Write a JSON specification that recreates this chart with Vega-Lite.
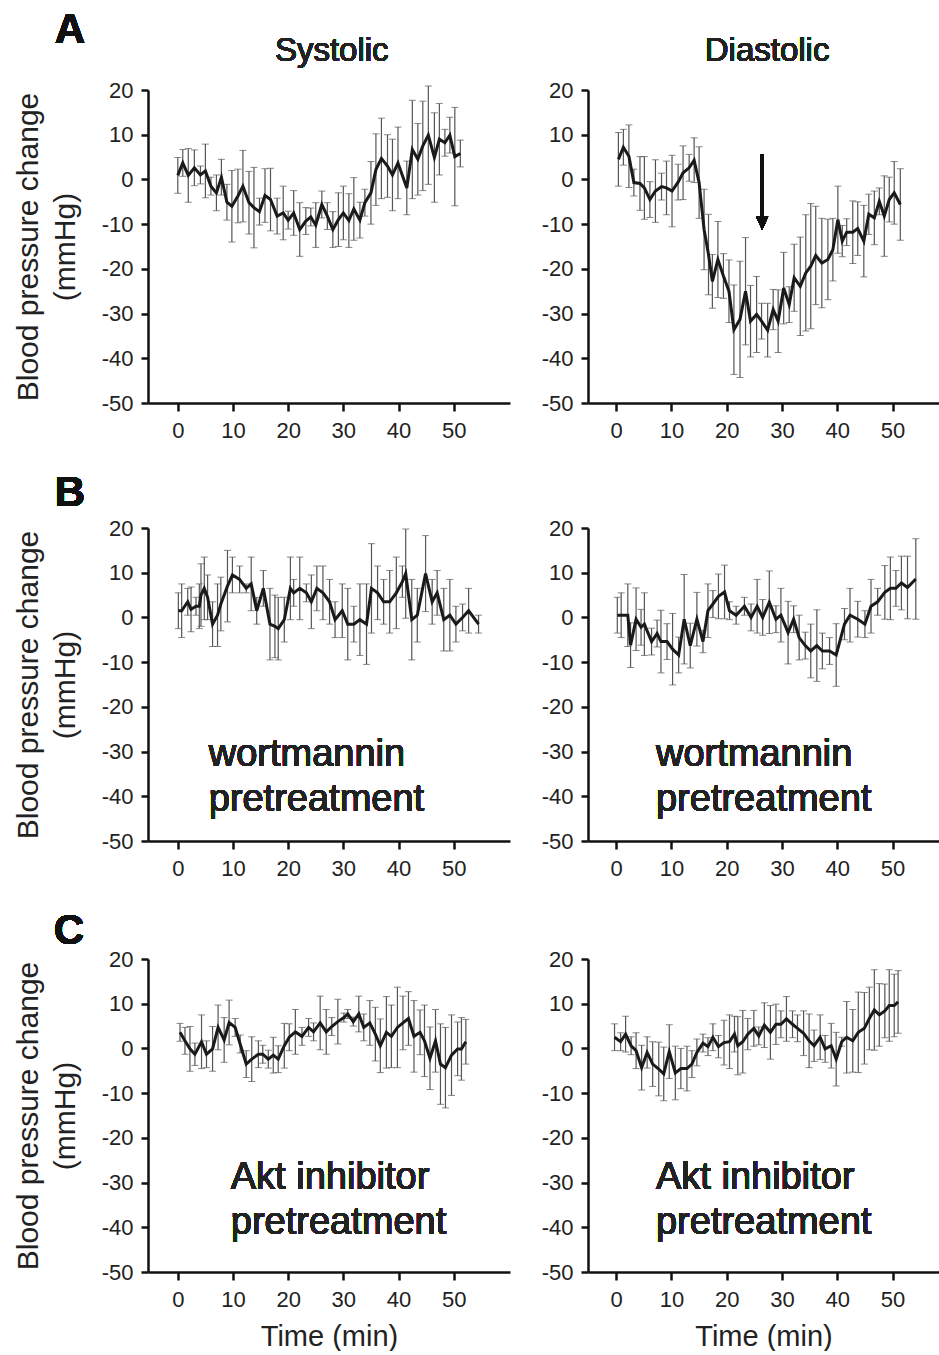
{
"$schema": "https://vega.github.io/schema/vega-lite/v6.json",
"background": "white",
"padding": {"left": 13, "top": 9, "right": 0, "bottom": 0},
"spacing": 30,
"config": {
  "font": "Liberation Sans",
  "view": {"stroke": null},
  "axis": {"grid": false, "domainColor": "#111", "domainWidth": 2.5, "tickColor": "#111", "tickWidth": 2.5, "tickSize": 8, "labelFont": "Liberation Sans", "labelFontSize": 22, "labelColor": "#222", "labelPadding": 9, "titleFont": "Liberation Sans", "titleFontWeight": "normal", "titleColor": "#222"},
  "axisX": {"titleFontSize": 29, "titlePadding": 12},
  "axisY": {"tickSize": 7, "labelPadding": 8, "titleFontSize": 30, "titleLineHeight": 37, "titlePadding": 21},
  "text": {"font": "Liberation Sans", "color": "#222"}
},
"datasets": {
  "sysA": [{"t":0,"mean":0.9,"sem":4},{"t":0.9,"mean":3.7,"sem":3},{"t":1.9,"mean":0.9,"sem":6},{"t":3.0,"mean":2.6,"sem":4},{"t":4.1,"mean":1.0,"sem":2},{"t":5.0,"mean":1.9,"sem":6},{"t":6.0,"mean":-1.5,"sem":2},{"t":7.0,"mean":-3.0,"sem":4},{"t":7.9,"mean":0.5,"sem":4},{"t":8.9,"mean":-5.1,"sem":4},{"t":9.8,"mean":-6.0,"sem":8},{"t":10.9,"mean":-3.7,"sem":6},{"t":11.8,"mean":-1.5,"sem":8},{"t":12.9,"mean":-5.2,"sem":7},{"t":13.8,"mean":-6.3,"sem":9},{"t":14.8,"mean":-7.2,"sem":3},{"t":15.8,"mean":-3.6,"sem":6},{"t":16.8,"mean":-4.5,"sem":7},{"t":18.0,"mean":-8.2,"sem":4},{"t":19.1,"mean":-7.5,"sem":6},{"t":20.0,"mean":-9.1,"sem":2},{"t":21.0,"mean":-7.5,"sem":5},{"t":22.1,"mean":-11.2,"sem":6},{"t":23.2,"mean":-9.3,"sem":3},{"t":24.1,"mean":-8.4,"sem":2},{"t":25.0,"mean":-10.2,"sem":5},{"t":26.1,"mean":-5.6,"sem":3},{"t":27.1,"mean":-8.2,"sem":3},{"t":28.1,"mean":-11.2,"sem":4},{"t":29.1,"mean":-9.0,"sem":6},{"t":30.0,"mean":-7.5,"sem":6},{"t":31.0,"mean":-9.2,"sem":6},{"t":31.9,"mean":-6.6,"sem":7},{"t":33.0,"mean":-9.1,"sem":4},{"t":33.9,"mean":-5.2,"sem":3},{"t":35.0,"mean":-3.0,"sem":7},{"t":35.9,"mean":2.2,"sem":8},{"t":36.9,"mean":4.7,"sem":9},{"t":38.0,"mean":3.0,"sem":7},{"t":38.9,"mean":1.0,"sem":8},{"t":39.9,"mean":3.7,"sem":8},{"t":41.5,"mean":-1.9,"sem":6},{"t":42.5,"mean":6.7,"sem":11},{"t":43.5,"mean":4.5,"sem":8},{"t":44.4,"mean":7.5,"sem":10},{"t":45.4,"mean":9.9,"sem":11},{"t":46.5,"mean":4.9,"sem":10},{"t":47.4,"mean":9.0,"sem":8},{"t":48.4,"mean":8.2,"sem":3},{"t":49.3,"mean":9.9,"sem":4},{"t":50.2,"mean":5.1,"sem":11},{"t":51.2,"mean":5.8,"sem":3}],
  "diaA": [{"t":0.4,"mean":4.5,"sem":6},{"t":1.3,"mean":7.2,"sem":4},{"t":2.3,"mean":5.2,"sem":7},{"t":3.2,"mean":-0.7,"sem":3},{"t":4.3,"mean":-0.9,"sem":6},{"t":5.1,"mean":-1.9,"sem":7},{"t":6.1,"mean":-4.5,"sem":4},{"t":7.1,"mean":-2.6,"sem":7},{"t":8.2,"mean":-1.6,"sem":3},{"t":9.1,"mean":-1.9,"sem":6},{"t":10.1,"mean":-2.6,"sem":8},{"t":11.2,"mean":-0.6,"sem":4},{"t":12.1,"mean":1.5,"sem":6},{"t":13.2,"mean":2.6,"sem":3},{"t":14.1,"mean":4.3,"sem":5},{"t":15.0,"mean":-0.7,"sem":8},{"t":15.9,"mean":-11.2,"sem":9},{"t":16.7,"mean":-16.8,"sem":9},{"t":17.4,"mean":-22.8,"sem":6},{"t":18.4,"mean":-17.9,"sem":8.5},{"t":19.4,"mean":-21.6,"sem":5},{"t":20.4,"mean":-25.0,"sem":7},{"t":21.3,"mean":-33.6,"sem":10},{"t":22.4,"mean":-31.3,"sem":13},{"t":23.4,"mean":-25.0,"sem":12},{"t":24.3,"mean":-31.7,"sem":8},{"t":25.4,"mean":-30.2,"sem":8.5},{"t":26.3,"mean":-31.7,"sem":4},{"t":27.4,"mean":-33.7,"sem":6},{"t":28.4,"mean":-29.1,"sem":4.5},{"t":29.3,"mean":-31.7,"sem":7},{"t":30.3,"mean":-24.3,"sem":8},{"t":31.3,"mean":-28.0,"sem":4},{"t":32.2,"mean":-22.0,"sem":7.5},{"t":33.3,"mean":-23.9,"sem":11},{"t":34.3,"mean":-20.9,"sem":13},{"t":35.2,"mean":-19.4,"sem":14},{"t":36.1,"mean":-17.0,"sem":11},{"t":37.2,"mean":-18.7,"sem":10},{"t":38.3,"mean":-17.9,"sem":9},{"t":39.2,"mean":-15.7,"sem":7},{"t":40.1,"mean":-9.0,"sem":7.5},{"t":40.9,"mean":-13.8,"sem":3.5},{"t":41.7,"mean":-11.8,"sem":3},{"t":42.8,"mean":-11.8,"sem":7},{"t":43.7,"mean":-11.0,"sem":6},{"t":44.8,"mean":-13.8,"sem":8},{"t":45.7,"mean":-7.8,"sem":4.5},{"t":46.7,"mean":-8.6,"sem":6},{"t":47.6,"mean":-4.9,"sem":3},{"t":48.5,"mean":-8.2,"sem":9},{"t":49.4,"mean":-4.5,"sem":5},{"t":50.3,"mean":-3.0,"sem":7},{"t":51.4,"mean":-5.6,"sem":8}],
  "sysB": [{"t":0.1,"mean":1.5,"sem":4},{"t":0.7,"mean":1.5,"sem":6},{"t":1.8,"mean":3.5,"sem":3},{"t":2.4,"mean":1.8,"sem":5},{"t":3.3,"mean":2.5,"sem":2},{"t":3.9,"mean":2.5,"sem":5},{"t":4.2,"mean":5,"sem":7},{"t":4.8,"mean":6.5,"sem":7},{"t":5.4,"mean":4.5,"sem":5},{"t":6.3,"mean":-1.5,"sem":5},{"t":7.2,"mean":0.5,"sem":7},{"t":7.8,"mean":3,"sem":6},{"t":9.0,"mean":7,"sem":8},{"t":9.9,"mean":9.5,"sem":4},{"t":11.2,"mean":8.5,"sem":3},{"t":12.4,"mean":6.5,"sem":1},{"t":13.3,"mean":7.5,"sem":6},{"t":14.3,"mean":1.5,"sem":3},{"t":15.5,"mean":6.5,"sem":4},{"t":16.7,"mean":-1.5,"sem":8},{"t":17.6,"mean":-2,"sem":7},{"t":18.2,"mean":-2.5,"sem":7},{"t":19.3,"mean":-0.5,"sem":5},{"t":20.4,"mean":6.5,"sem":7},{"t":21.0,"mean":5.5,"sem":3},{"t":22.1,"mean":6.5,"sem":7},{"t":23.3,"mean":5.5,"sem":2},{"t":24.2,"mean":3.5,"sem":6},{"t":25.2,"mean":6.5,"sem":5},{"t":26.3,"mean":5.5,"sem":6},{"t":27.5,"mean":3.5,"sem":5},{"t":28.5,"mean":-0.5,"sem":4},{"t":29.8,"mean":1.5,"sem":6},{"t":30.8,"mean":-1.5,"sem":8},{"t":31.9,"mean":-1.5,"sem":4},{"t":33.0,"mean":-0.5,"sem":8},{"t":34.2,"mean":-1.5,"sem":9},{"t":35.1,"mean":6.5,"sem":10},{"t":36.2,"mean":5.5,"sem":6},{"t":37.3,"mean":3.5,"sem":5},{"t":38.4,"mean":3.5,"sem":7},{"t":39.6,"mean":5.5,"sem":8},{"t":40.7,"mean":8,"sem":3.5},{"t":41.3,"mean":9.8,"sem":10},{"t":42.4,"mean":-0.5,"sem":9},{"t":43.4,"mean":0.5,"sem":6},{"t":44.9,"mean":9.8,"sem":8.5},{"t":46.1,"mean":3.5,"sem":5},{"t":47.0,"mean":5.5,"sem":5},{"t":48.2,"mean":-0.5,"sem":7},{"t":49.3,"mean":0.5,"sem":8},{"t":50.4,"mean":-1.5,"sem":4},{"t":51.6,"mean":0,"sem":3},{"t":52.7,"mean":1.5,"sem":5},{"t":54.5,"mean":-1.5,"sem":2}],
  "diaB": [{"t":0.2,"mean":0.5,"sem":4},{"t":0.9,"mean":0.5,"sem":5},{"t":2.1,"mean":0.5,"sem":7},{"t":2.6,"mean":-6.2,"sem":5},{"t":3.6,"mean":-0.4,"sem":7},{"t":4.5,"mean":-2.2,"sem":4},{"t":5.1,"mean":-1.5,"sem":7},{"t":6.4,"mean":-5.4,"sem":3},{"t":7.4,"mean":-3.6,"sem":3},{"t":8.1,"mean":-5.4,"sem":7},{"t":9.2,"mean":-5.4,"sem":4},{"t":10.2,"mean":-7.1,"sem":8},{"t":11.3,"mean":-8.4,"sem":4},{"t":12.3,"mean":-0.4,"sem":10},{"t":13.4,"mean":-6.3,"sem":5},{"t":14.6,"mean":-0.4,"sem":6},{"t":15.7,"mean":-5.4,"sem":2.5},{"t":16.6,"mean":1.5,"sem":6},{"t":17.5,"mean":3,"sem":3},{"t":18.5,"mean":4.7,"sem":5},{"t":19.6,"mean":5.7,"sem":6},{"t":20.5,"mean":1.5,"sem":2},{"t":21.7,"mean":0.5,"sem":2},{"t":23.2,"mean":2.5,"sem":2},{"t":24.4,"mean":0,"sem":3},{"t":25.5,"mean":2.5,"sem":6},{"t":26.5,"mean":0,"sem":4},{"t":27.7,"mean":3.4,"sem":7},{"t":28.9,"mean":-0.4,"sem":3},{"t":29.8,"mean":0.5,"sem":6},{"t":31.1,"mean":-3.4,"sem":7},{"t":32.1,"mean":-0.4,"sem":3},{"t":33.1,"mean":-4.5,"sem":5},{"t":34.2,"mean":-6.3,"sem":3},{"t":35.2,"mean":-7.5,"sem":6},{"t":36.3,"mean":-6.3,"sem":8},{"t":37.3,"mean":-7.5,"sem":4},{"t":38.6,"mean":-7.5,"sem":3},{"t":39.8,"mean":-8.4,"sem":7},{"t":41.3,"mean":-1.5,"sem":3.5},{"t":42.3,"mean":0.5,"sem":6},{"t":43.7,"mean":-0.4,"sem":4},{"t":45.0,"mean":-1.5,"sem":3},{"t":46.1,"mean":2.5,"sem":6},{"t":47.3,"mean":3.5,"sem":3},{"t":48.6,"mean":5.6,"sem":6},{"t":49.6,"mean":6.5,"sem":7},{"t":50.6,"mean":6.5,"sem":4},{"t":51.6,"mean":7.7,"sem":6},{"t":52.7,"mean":6.7,"sem":7},{"t":54.2,"mean":8.6,"sem":9}],
  "sysC": [{"t":0.4,"mean":3.6,"sem":2},{"t":1.3,"mean":1.7,"sem":3},{"t":2.2,"mean":-0.1,"sem":5},{"t":3.1,"mean":-1.3,"sem":2.5},{"t":4.3,"mean":1.5,"sem":6},{"t":5.2,"mean":-1.3,"sem":3},{"t":6.3,"mean":-0.1,"sem":5},{"t":7.3,"mean":4.7,"sem":5},{"t":8.4,"mean":1.9,"sem":5},{"t":9.3,"mean":5.8,"sem":5},{"t":10.4,"mean":4.7,"sem":2},{"t":11.3,"mean":1.0,"sem":2},{"t":12.4,"mean":-3.5,"sem":3},{"t":13.4,"mean":-2.4,"sem":5},{"t":14.6,"mean":-1.3,"sem":3},{"t":15.4,"mean":-1.3,"sem":2},{"t":16.4,"mean":-2.4,"sem":2},{"t":17.3,"mean":-1.5,"sem":4},{"t":18.2,"mean":-2.4,"sem":3},{"t":19.3,"mean":0.6,"sem":5},{"t":20.2,"mean":2.5,"sem":3},{"t":21.3,"mean":3.7,"sem":5},{"t":22.5,"mean":2.7,"sem":2},{"t":23.7,"mean":4.7,"sem":2},{"t":24.6,"mean":3.7,"sem":2},{"t":25.8,"mean":5.7,"sem":6},{"t":26.9,"mean":3.7,"sem":5},{"t":27.9,"mean":4.9,"sem":2},{"t":29.0,"mean":6.0,"sem":5},{"t":30.1,"mean":6.9,"sem":1},{"t":30.8,"mean":7.7,"sem":1},{"t":31.8,"mean":6.0,"sem":1},{"t":32.8,"mean":7.7,"sem":4},{"t":33.7,"mean":4.7,"sem":3},{"t":34.8,"mean":5.7,"sem":5},{"t":35.8,"mean":3.2,"sem":6},{"t":36.7,"mean":0.6,"sem":6},{"t":37.8,"mean":3.6,"sem":8},{"t":38.7,"mean":2.7,"sem":7},{"t":39.8,"mean":4.7,"sem":9},{"t":40.8,"mean":5.7,"sem":6},{"t":41.8,"mean":6.7,"sem":6},{"t":42.8,"mean":2.7,"sem":8},{"t":43.9,"mean":3.6,"sem":5},{"t":44.7,"mean":1.7,"sem":8},{"t":45.7,"mean":-2.2,"sem":7},{"t":46.7,"mean":1.7,"sem":7},{"t":47.6,"mean":-3.5,"sem":9},{"t":48.5,"mean":-4.3,"sem":9},{"t":49.6,"mean":-1.5,"sem":9},{"t":50.7,"mean":-0.1,"sem":6},{"t":51.4,"mean":-0.1,"sem":7},{"t":52.2,"mean":1.5,"sem":5}],
  "diaC": [{"t":-0.3,"mean":2.5,"sem":3},{"t":0.8,"mean":1.5,"sem":2},{"t":1.7,"mean":3.2,"sem":4},{"t":2.7,"mean":0.6,"sem":2},{"t":3.6,"mean":-0.5,"sem":4},{"t":4.6,"mean":-4.3,"sem":5},{"t":5.6,"mean":-0.9,"sem":3.5},{"t":6.6,"mean":-3.5,"sem":5},{"t":7.7,"mean":-4.6,"sem":6},{"t":8.6,"mean":-5.7,"sem":6},{"t":9.6,"mean":-0.7,"sem":6},{"t":10.7,"mean":-5.5,"sem":6},{"t":11.7,"mean":-4.5,"sem":4.5},{"t":12.8,"mean":-4.5,"sem":5},{"t":13.7,"mean":-3.5,"sem":3},{"t":14.6,"mean":-0.9,"sem":3},{"t":15.7,"mean":1.2,"sem":2},{"t":16.6,"mean":0.4,"sem":2},{"t":17.5,"mean":2.5,"sem":3},{"t":18.5,"mean":0.4,"sem":2.5},{"t":19.5,"mean":1.3,"sem":5},{"t":20.5,"mean":1.5,"sem":6},{"t":21.4,"mean":3.2,"sem":4},{"t":22.0,"mean":0.6,"sem":6.5},{"t":22.9,"mean":1.5,"sem":7},{"t":23.8,"mean":3.2,"sem":3.5},{"t":24.9,"mean":4.5,"sem":4},{"t":25.8,"mean":2.8,"sem":2},{"t":26.8,"mean":5.2,"sem":5},{"t":27.9,"mean":3.6,"sem":6},{"t":28.9,"mean":5.4,"sem":4.5},{"t":29.8,"mean":5.4,"sem":3},{"t":30.8,"mean":6.6,"sem":5},{"t":31.9,"mean":5.4,"sem":3},{"t":32.8,"mean":4.5,"sem":3},{"t":33.9,"mean":3.4,"sem":5},{"t":34.9,"mean":1.7,"sem":6},{"t":35.8,"mean":0.6,"sem":3.5},{"t":36.9,"mean":2.5,"sem":5},{"t":37.8,"mean":-0.1,"sem":3},{"t":38.9,"mean":0.6,"sem":5},{"t":39.8,"mean":-2.4,"sem":6},{"t":40.8,"mean":1.5,"sem":1},{"t":41.7,"mean":2.5,"sem":8},{"t":42.8,"mean":1.7,"sem":7},{"t":43.8,"mean":3.6,"sem":9},{"t":44.9,"mean":4.5,"sem":8},{"t":45.8,"mean":6.7,"sem":7},{"t":46.7,"mean":8.6,"sem":9},{"t":47.6,"mean":7.5,"sem":7},{"t":48.6,"mean":8.4,"sem":6},{"t":49.4,"mean":9.6,"sem":8},{"t":50.3,"mean":9.6,"sem":7},{"t":51.0,"mean":10.4,"sem":7}]
},
"vconcat": [
 {"hconcat": [
  {"width": 362, "height": 313, "data": {"name": "sysA"},
   "layer": [
    {"mark": {"type": "errorbar", "ticks": {"size": 7, "color": "#555", "strokeWidth": 1.2}, "rule": {"color": "#555", "strokeWidth": 1.2}},
     "encoding": {"x": {"field": "t", "type": "quantitative", "title": null, "scale": {"domain": [-5.4, 60.2], "nice": false, "zero": false}, "axis": {"values": [0,10,20,30,40,50]}},
                  "y": {"field": "mean", "type": "quantitative", "title": ["Blood pressure change", "(mmHg)"], "scale": {"domain": [-50, 20], "nice": false, "zero": false}, "axis": {"values": [-50,-40,-30,-20,-10,0,10,20], "labelExpr": "'' + datum.value"}},
                  "yError": {"field": "sem"}}},
    {"mark": {"type": "line", "color": "#1a1a1a", "strokeWidth": 3}, "encoding": {"x": {"field": "t", "type": "quantitative", "title": null}, "y": {"field": "mean", "type": "quantitative", "title": ["Blood pressure change", "(mmHg)"]}}},
    {"mark": {"type": "text", "text": "A", "fontSize": 42, "fontWeight": "bold", "align": "left", "baseline": "alphabetic", "color": "#111"}, "encoding": {"x": {"datum": -22.3}, "y": {"datum": 30.5}}},
    {"mark": {"type": "text", "text": "Systolic", "fontSize": 33, "align": "center", "baseline": "alphabetic"}, "encoding": {"x": {"datum": 27.9}, "y": {"datum": 26.5}}}
   ]},
  {"width": 351, "height": 313, "data": {"name": "diaA"},
   "layer": [
    {"mark": {"type": "errorbar", "ticks": {"size": 7, "color": "#555", "strokeWidth": 1.2}, "rule": {"color": "#555", "strokeWidth": 1.2}},
     "encoding": {"x": {"field": "t", "type": "quantitative", "title": null, "scale": {"domain": [-5.1, 58.4], "nice": false, "zero": false}, "axis": {"values": [0,10,20,30,40,50]}},
                  "y": {"field": "mean", "type": "quantitative", "title": null, "scale": {"domain": [-50, 20], "nice": false, "zero": false}, "axis": {"values": [-50,-40,-30,-20,-10,0,10,20], "labelExpr": "'' + datum.value"}},
                  "yError": {"field": "sem"}}},
    {"mark": {"type": "line", "color": "#1a1a1a", "strokeWidth": 3}, "encoding": {"x": {"field": "t", "type": "quantitative", "title": null}, "y": {"field": "mean", "type": "quantitative", "title": null}}},
    {"mark": {"type": "rule", "color": "#111", "strokeWidth": 3}, "encoding": {"x": {"datum": 26.4}, "y": {"datum": 5.5}, "y2": {"datum": -8.6}}},
    {"mark": {"type": "point", "shape": "M-1,-1.1L1,-1.1L0,1.1Z", "size": 144, "filled": true, "color": "#111", "opacity": 1}, "encoding": {"x": {"datum": 26.4}, "y": {"datum": -9.8}}},
    {"mark": {"type": "text", "text": "Diastolic", "fontSize": 33, "align": "center", "baseline": "alphabetic"}, "encoding": {"x": {"datum": 27.3}, "y": {"datum": 26.5}}}
   ]}
 ], "spacing": 31},
 {"hconcat": [
  {"width": 362, "height": 313, "data": {"name": "sysB"},
   "layer": [
    {"mark": {"type": "errorbar", "ticks": {"size": 7, "color": "#555", "strokeWidth": 1.2}, "rule": {"color": "#555", "strokeWidth": 1.2}},
     "encoding": {"x": {"field": "t", "type": "quantitative", "title": null, "scale": {"domain": [-5.4, 60.2], "nice": false, "zero": false}, "axis": {"values": [0,10,20,30,40,50]}},
                  "y": {"field": "mean", "type": "quantitative", "title": ["Blood pressure change", "(mmHg)"], "scale": {"domain": [-50, 20], "nice": false, "zero": false}, "axis": {"values": [-50,-40,-30,-20,-10,0,10,20], "labelExpr": "'' + datum.value"}},
                  "yError": {"field": "sem"}}},
    {"mark": {"type": "line", "color": "#1a1a1a", "strokeWidth": 3}, "encoding": {"x": {"field": "t", "type": "quantitative", "title": null}, "y": {"field": "mean", "type": "quantitative", "title": ["Blood pressure change", "(mmHg)"]}}},
    {"mark": {"type": "text", "text": "B", "fontSize": 42, "fontWeight": "bold", "align": "left", "baseline": "alphabetic", "color": "#111"}, "encoding": {"x": {"datum": -22.3}, "y": {"datum": 25.0}}},
    {"mark": {"type": "text", "text": ["wortmannin", "pretreatment"], "fontSize": 38, "lineHeight": 45, "align": "left", "baseline": "alphabetic"}, "encoding": {"x": {"datum": 5.6}, "y": {"datum": -33.2}}}
   ]},
  {"width": 351, "height": 313, "data": {"name": "diaB"},
   "layer": [
    {"mark": {"type": "errorbar", "ticks": {"size": 7, "color": "#555", "strokeWidth": 1.2}, "rule": {"color": "#555", "strokeWidth": 1.2}},
     "encoding": {"x": {"field": "t", "type": "quantitative", "title": null, "scale": {"domain": [-5.1, 58.4], "nice": false, "zero": false}, "axis": {"values": [0,10,20,30,40,50]}},
                  "y": {"field": "mean", "type": "quantitative", "title": null, "scale": {"domain": [-50, 20], "nice": false, "zero": false}, "axis": {"values": [-50,-40,-30,-20,-10,0,10,20], "labelExpr": "'' + datum.value"}},
                  "yError": {"field": "sem"}}},
    {"mark": {"type": "line", "color": "#1a1a1a", "strokeWidth": 3}, "encoding": {"x": {"field": "t", "type": "quantitative", "title": null}, "y": {"field": "mean", "type": "quantitative", "title": null}}},
    {"mark": {"type": "text", "text": ["wortmannin", "pretreatment"], "fontSize": 38, "lineHeight": 45, "align": "left", "baseline": "alphabetic"}, "encoding": {"x": {"datum": 7.2}, "y": {"datum": -33.2}}}
   ]}
 ], "spacing": 31},
 {"hconcat": [
  {"width": 362, "height": 313, "data": {"name": "sysC"},
   "layer": [
    {"mark": {"type": "errorbar", "ticks": {"size": 7, "color": "#555", "strokeWidth": 1.2}, "rule": {"color": "#555", "strokeWidth": 1.2}},
     "encoding": {"x": {"field": "t", "type": "quantitative", "title": "Time (min)", "scale": {"domain": [-5.4, 60.2], "nice": false, "zero": false}, "axis": {"values": [0,10,20,30,40,50]}},
                  "y": {"field": "mean", "type": "quantitative", "title": ["Blood pressure change", "(mmHg)"], "scale": {"domain": [-50, 20], "nice": false, "zero": false}, "axis": {"values": [-50,-40,-30,-20,-10,0,10,20], "labelExpr": "'' + datum.value"}},
                  "yError": {"field": "sem"}}},
    {"mark": {"type": "line", "color": "#1a1a1a", "strokeWidth": 3}, "encoding": {"x": {"field": "t", "type": "quantitative", "title": "Time (min)"}, "y": {"field": "mean", "type": "quantitative", "title": ["Blood pressure change", "(mmHg)"]}}},
    {"mark": {"type": "text", "text": "C", "fontSize": 42, "fontWeight": "bold", "align": "left", "baseline": "alphabetic", "color": "#111"}, "encoding": {"x": {"datum": -22.5}, "y": {"datum": 23.4}}},
    {"mark": {"type": "text", "text": ["Akt inhibitor", "pretreatment"], "fontSize": 38, "lineHeight": 45, "align": "left", "baseline": "alphabetic"}, "encoding": {"x": {"datum": 9.6}, "y": {"datum": -31.4}}}
   ]},
  {"width": 351, "height": 313, "data": {"name": "diaC"},
   "layer": [
    {"mark": {"type": "errorbar", "ticks": {"size": 7, "color": "#555", "strokeWidth": 1.2}, "rule": {"color": "#555", "strokeWidth": 1.2}},
     "encoding": {"x": {"field": "t", "type": "quantitative", "title": "Time (min)", "scale": {"domain": [-5.1, 58.4], "nice": false, "zero": false}, "axis": {"values": [0,10,20,30,40,50]}},
                  "y": {"field": "mean", "type": "quantitative", "title": null, "scale": {"domain": [-50, 20], "nice": false, "zero": false}, "axis": {"values": [-50,-40,-30,-20,-10,0,10,20], "labelExpr": "'' + datum.value"}},
                  "yError": {"field": "sem"}}},
    {"mark": {"type": "line", "color": "#1a1a1a", "strokeWidth": 3}, "encoding": {"x": {"field": "t", "type": "quantitative", "title": "Time (min)"}, "y": {"field": "mean", "type": "quantitative", "title": null}}},
    {"mark": {"type": "text", "text": ["Akt inhibitor", "pretreatment"], "fontSize": 38, "lineHeight": 45, "align": "left", "baseline": "alphabetic"}, "encoding": {"x": {"datum": 7.2}, "y": {"datum": -31.4}}}
   ]}
 ], "spacing": 31}
]
}
